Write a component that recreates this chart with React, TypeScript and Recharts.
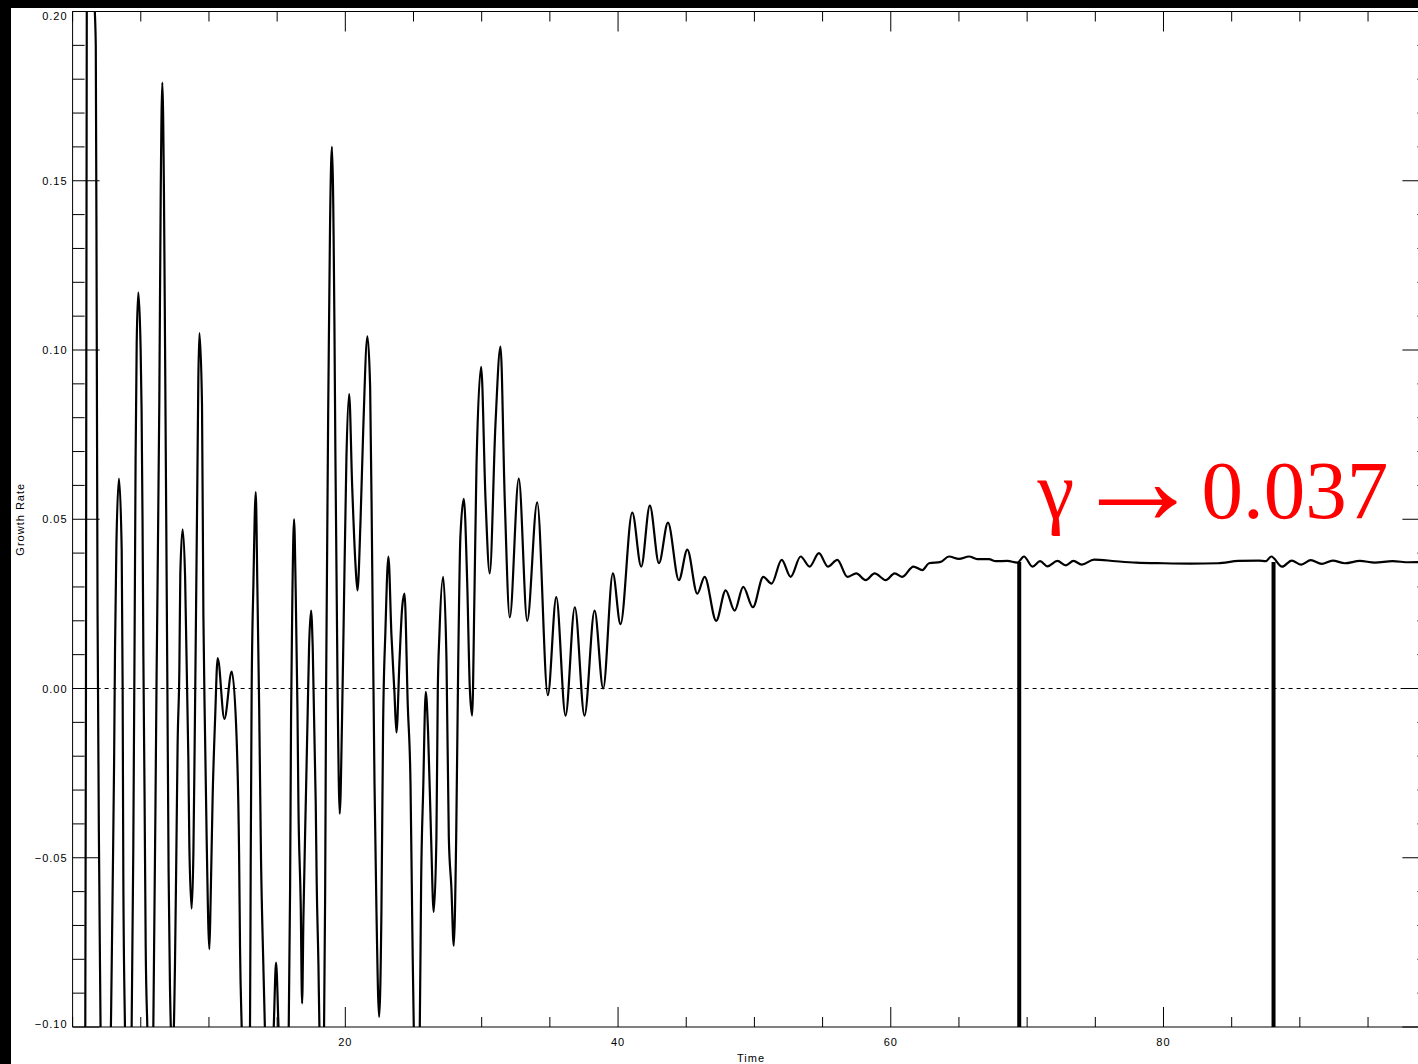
import { Label, Line, LineChart, ReferenceLine, XAxis, YAxis } from 'recharts';

// time samples (peaks, troughs and edge crossings)
const times = [
  0.8, 0.93, 0.98, 1.04, 1.3, 1.58, 1.7, 1.77, 1.83, 1.96, 2.05, 2.45, 2.83, 2.94, 3.04, 3.11,
  3.21, 3.4, 3.6, 3.67, 3.72, 3.84, 4.1, 4.33, 4.45, 4.55, 4.62, 4.7, 4.82, 4.99, 5.06, 5.13,
  5.19, 5.28, 5.36, 5.48, 5.7, 5.92, 6.16, 6.36, 6.46, 6.58, 6.7, 6.78, 6.95, 7.04, 7.14, 7.33,
  7.51, 7.63, 7.7, 7.83, 7.9, 8.07, 8.25, 8.49, 8.56, 8.73, 8.86, 8.95, 9.05, 9.15, 9.22, 9.3,
  9.49, 9.59, 9.71, 9.83, 10.03, 10.12, 10.27, 10.45, 10.64, 11.13, 11.67, 12.03, 12.21, 12.28,
  12.4, 12.7, 13.01, 13.06, 13.13, 13.26, 13.43, 13.55, 13.68, 13.82, 13.99, 14.1, 14.4, 14.75,
  14.92, 15.1, 15.5, 15.85, 15.95, 16.02, 16.12, 16.24, 16.36, 16.49, 16.56, 16.73, 16.83, 16.93,
  17.12, 17.24, 17.34, 17.49, 17.61, 17.83, 17.9, 18.03, 18.1, 18.27, 18.44, 18.52, 18.59, 18.78,
  18.88, 19.02, 19.2, 19.27, 19.44, 19.59, 19.76, 19.88, 20.08, 20.28, 20.5, 20.74, 20.89, 21.11,
  21.31, 21.62, 21.82, 21.97, 22.14, 22.28, 22.48, 22.65, 22.77, 22.94, 23.16, 23.38, 23.6, 23.75,
  23.97, 24.17, 24.34, 24.58, 24.78, 24.92, 25.02, 25.24, 25.46, 25.56, 25.71, 25.9, 26.07, 26.29,
  26.48, 26.68, 26.78, 26.9, 27.17, 27.42, 27.59, 27.78, 27.95, 28.13, 28.28, 28.44, 28.69, 28.94,
  29.13, 29.3, 29.47, 29.62, 29.96, 30.28, 30.59, 31.01, 31.38, 31.69, 32.06, 32.72, 33.34, 34.07,
  34.85, 35.47, 36.15, 36.83, 37.54, 38.28, 38.91, 39.62, 40.18, 41.04, 41.7, 42.33, 43.0, 43.66,
  44.46, 45.08, 45.81, 46.35, 47.2, 47.89, 48.55, 49.18, 49.89, 50.65, 51.26, 52.0, 52.66, 53.39,
  54.05, 54.73, 55.39, 56.08, 56.82, 57.47, 58.16, 58.82, 59.63, 60.29, 60.85, 61.66, 62.32, 62.8,
  63.66, 64.27, 65.0, 65.74, 66.35, 67.2, 67.7, 68.55, 69.28, 69.77, 70.39, 70.95, 71.49, 72.22,
  72.83, 73.4, 74.0, 74.91, 76.5, 78.0, 80.0, 82.0, 84.0, 85.5, 87.0, 87.5, 87.9, 88.7, 89.4,
  90.1, 90.8, 91.6, 92.4, 93.3, 94.4, 95.5, 96.8, 98.0, 99.5,
];

const growth = [
  -0.22, -0.1, 0.0, 0.2, 0.26, 0.205, 0.19, 0.106, 0.022, -0.058, -0.1, -0.15, -0.094, -0.058, -0.023, 0.011,
  0.042, 0.062, 0.041, 0.0, -0.056, -0.1, -0.14, -0.1, -0.048, 0.017, 0.068, 0.102, 0.117, 0.1, 0.082, 0.049,
  0.01, -0.033, -0.076, -0.1, -0.13, -0.1, 0.004, 0.085, 0.145, 0.179, 0.146, 0.101, 0.001, -0.054, -0.088, -0.11,
  -0.081, -0.041, -0.017, 0.006, 0.034, 0.047, 0.033, -0.021, -0.046, -0.065, -0.048, -0.017, 0.022, 0.062, 0.091, 0.105,
  0.084, 0.022, -0.013, -0.044, -0.077, -0.063, -0.032, -0.009, 0.009, -0.009, 0.005, -0.015, -0.049, -0.077,
  -0.1, -0.13, -0.1, -0.053, -0.001, 0.031, 0.058, 0.03, -0.005, -0.051, -0.082, -0.1, -0.13, -0.1,
  -0.081, -0.1, -0.14, -0.1, -0.059, -0.009, 0.028, 0.05, 0.029, -0.006, -0.034, -0.064, -0.093, -0.067,
  -0.03, -0.007, 0.012, 0.023, 0.012, -0.034, -0.057, -0.082, -0.1, -0.115, -0.1, -0.061, 0.0, 0.097,
  0.137, 0.16, 0.108, 0.07, -0.003, -0.037, -0.009, 0.02, 0.068, 0.087, 0.06, 0.037, 0.029, 0.049,
  0.076, 0.104, 0.089, 0.037, -0.028, -0.065, -0.097, -0.065, -0.011, 0.017, 0.039, 0.016, -0.001, -0.013,
  0.008, 0.024, 0.028, -0.005, -0.028, -0.073, -0.1, -0.12, -0.1, -0.057, -0.03, -0.001, -0.013, -0.044,
  -0.066, -0.044, -0.001, 0.016, 0.033, 0.008, -0.044, -0.059, -0.076, -0.044, 0.008, 0.045, 0.056, 0.031,
  0.0, -0.008, 0.028, 0.066, 0.095, 0.056, 0.034, 0.078, 0.101, 0.056, 0.021, 0.062, 0.02, 0.055,
  -0.002, 0.027, -0.008, 0.024, -0.008, 0.023, 0.0, 0.034, 0.019, 0.052, 0.036, 0.054, 0.037, 0.049,
  0.032, 0.041, 0.028, 0.033, 0.02, 0.029, 0.023, 0.03, 0.024, 0.033, 0.031, 0.038, 0.033, 0.039,
  0.036, 0.04, 0.036, 0.038, 0.033, 0.034, 0.032, 0.034, 0.032, 0.034, 0.033, 0.036, 0.035, 0.037,
  0.0374, 0.039, 0.0383, 0.039, 0.0382, 0.0382, 0.0376, 0.0377, 0.0372, 0.039, 0.036, 0.0376, 0.0361, 0.0377,
  0.0364, 0.0377, 0.0366, 0.0381, 0.0376, 0.0372, 0.037, 0.0369, 0.037, 0.0377, 0.0378, 0.0376, 0.039, 0.036, 0.0378,
  0.0366, 0.0379, 0.0368, 0.0378, 0.037, 0.0377, 0.0372, 0.0376, 0.0373, 0.0374,
];

const xTicks = [0, 5, 10, 15, 20, 25, 30, 35, 40, 45, 50, 55, 60, 65, 70, 75, 80, 85, 90, 95];
const xMajorTicks = [20, 40, 60, 80];
const xTickLabels = ['20', '40', '60', '80'];

const yTicks = [
  -0.1, -0.09, -0.08, -0.07, -0.06, -0.05, -0.04, -0.03, -0.02, -0.01, 0, 0.01, 0.02, 0.03, 0.04, 0.05,
  0.06, 0.07, 0.08, 0.09, 0.1, 0.11, 0.12, 0.13, 0.14, 0.15, 0.16, 0.17, 0.18, 0.19, 0.2,
];
const yMajorTicks = [-0.1, -0.05, 0, 0.05, 0.1, 0.15, 0.2];
const yTickLabels = ['\u22120.10', '\u22120.05', '0.00', '0.05', '0.10', '0.15', '0.20'];

// times where the growth rate was measured (thick verticals)
const markerTimes = [69.42, 88.07];
const markerLevel = 0.0374;
const gammaSymbol = '\u03b3';
const gammaArrow = '\u2192';
const gammaValue = '0.037';

const data = times.map((t, i) => ({ t, g: growth[i] }));

const tickFont = {
  fontFamily: '"Liberation Sans", Arial, sans-serif',
  fontSize: 11,
  letterSpacing: 1,
  fill: '#000',
};

const serif = '"Liberation Serif", "Times New Roman", Times, serif';

const majorIndex = (list: number[], v: number) => list.findIndex((m) => Math.abs(m - v) < 1e-6);

function BottomTick(props: any) {
  const { x, y, payload } = props;
  const i = majorIndex(xMajorTicks, payload.value);
  return (
    <g>
      <line x1={x} x2={x} y1={y} y2={y - (i >= 0 ? 20 : 10)} stroke="#000" />
      {i >= 0 && (
        <text x={x} y={y + 19} textAnchor="middle" {...tickFont}>
          {xTickLabels[i]}
        </text>
      )}
    </g>
  );
}

function TopTick(props: any) {
  const { x, y, payload } = props;
  const i = majorIndex(xMajorTicks, payload.value);
  return <line x1={x} x2={x} y1={y} y2={y + (i >= 0 ? 20 : 10)} stroke="#000" />;
}

function LeftTick(props: any) {
  const { x, y, payload } = props;
  const i = majorIndex(yMajorTicks, payload.value);
  // IDL keeps the end labels inside the axis span
  let ty = y + 4;
  if (i === yMajorTicks.length - 1) ty = y + 8;
  if (i === 0) ty = y + 1;
  return (
    <g>
      <line x1={x} x2={x + (i >= 0 ? 27 : 12)} y1={y} y2={y} stroke="#000" />
      {i >= 0 && (
        <text x={x - 5} y={ty} textAnchor="end" {...tickFont}>
          {yTickLabels[i]}
        </text>
      )}
    </g>
  );
}

function RightTick(props: any) {
  const { x, y, payload } = props;
  const i = majorIndex(yMajorTicks, payload.value);
  return <line x1={x} x2={x - (i >= 0 ? 27 : 12)} y1={y} y2={y} stroke="#000" />;
}

function GammaNote(props: any) {
  const vb = props.viewBox;
  const x0 = vb.x;
  return (
    <g fill="#ff0000" style={{ fontFamily: serif }}>
      <text x={x0 + 965} y={518} style={{ fontSize: 83 }}>
        {gammaSymbol}
      </text>
      <text x={x0 + 1065} y={524} textAnchor="middle" style={{ fontSize: 131 }}>
        {gammaArrow}
      </text>
      <text x={x0 + 1129} y={518} style={{ fontSize: 83 }}>
        {gammaValue}
      </text>
    </g>
  );
}

export default function App() {
  return (
    <div
      style={{
        position: 'absolute',
        left: 0,
        top: 0,
        width: 1418,
        height: 1064,
        overflow: 'hidden',
        background: '#000',
      }}
    >
      <div style={{ position: 'absolute', left: 11, top: 8, right: 0, bottom: 0, background: '#fff' }} />
      <div style={{ position: 'absolute', left: 0, top: 0 }}>
        <LineChart
          width={1440}
          height={1064}
          data={data}
          margin={{ top: 1.5, right: 0.6, bottom: 7, left: 12.6 }}
        >
          <XAxis
            xAxisId="bottom"
            dataKey="t"
            type="number"
            domain={[0, 99.5]}
            allowDataOverflow
            ticks={xTicks}
            interval={0}
            height={30}
            tickSize={0}
            tickMargin={0}
            tickLine={false}
            axisLine={{ stroke: '#000' }}
            tick={<BottomTick />}
          >
            <Label
              content={(p: any) => {
                const vb = p.viewBox;
                return (
                  <text x={vb.x + vb.width / 2} y={vb.y + 34.5} textAnchor="middle" {...tickFont}>
                    Time
                  </text>
                );
              }}
            />
          </XAxis>
          <XAxis
            xAxisId="top"
            orientation="top"
            dataKey="t"
            type="number"
            domain={[0, 99.5]}
            allowDataOverflow
            ticks={xTicks}
            interval={0}
            height={10}
            tickSize={0}
            tickMargin={0}
            tickLine={false}
            axisLine={{ stroke: '#000' }}
            tick={<TopTick />}
          />
          <YAxis
            yAxisId="left"
            type="number"
            domain={[-0.1, 0.2]}
            allowDataOverflow
            ticks={yTicks}
            interval={0}
            width={60}
            tickSize={0}
            tickMargin={0}
            tickLine={false}
            axisLine={{ stroke: '#000' }}
            tick={<LeftTick />}
          >
            <Label
              content={(p: any) => {
                const vb = p.viewBox;
                const cx = 24;
                const cy = vb.y + vb.height / 2;
                return (
                  <text x={cx} y={cy} textAnchor="middle" transform={`rotate(-90, ${cx}, ${cy})`} {...tickFont}>
                    Growth Rate
                  </text>
                );
              }}
            />
          </YAxis>
          <YAxis
            yAxisId="right"
            orientation="right"
            type="number"
            domain={[-0.1, 0.2]}
            allowDataOverflow
            ticks={yTicks}
            interval={0}
            width={10}
            tickSize={0}
            tickMargin={0}
            tickLine={false}
            axisLine={{ stroke: '#000' }}
            tick={<RightTick />}
          />
          <ReferenceLine
            xAxisId="bottom"
            yAxisId="left"
            y={0}
            stroke="#000"
            strokeWidth={1}
            strokeDasharray="4 4"
          />
          <Line
            xAxisId="bottom"
            yAxisId="left"
            dataKey="g"
            type="monotone"
            stroke="#000"
            strokeWidth={2.2}
            dot={false}
            activeDot={false}
            isAnimationActive={false}
          />
          {markerTimes.map((mt) => (
            <ReferenceLine
              key={mt}
              xAxisId="bottom"
              yAxisId="left"
              segment={[
                { x: mt, y: markerLevel },
                { x: mt, y: -0.1 },
              ]}
              stroke="#000"
              strokeWidth={4}
            />
          ))}
          <ReferenceLine
            xAxisId="bottom"
            yAxisId="left"
            y={0.05}
            stroke="none"
            label={(p: any) => <GammaNote {...p} />}
          />
        </LineChart>
      </div>
    </div>
  );
}
